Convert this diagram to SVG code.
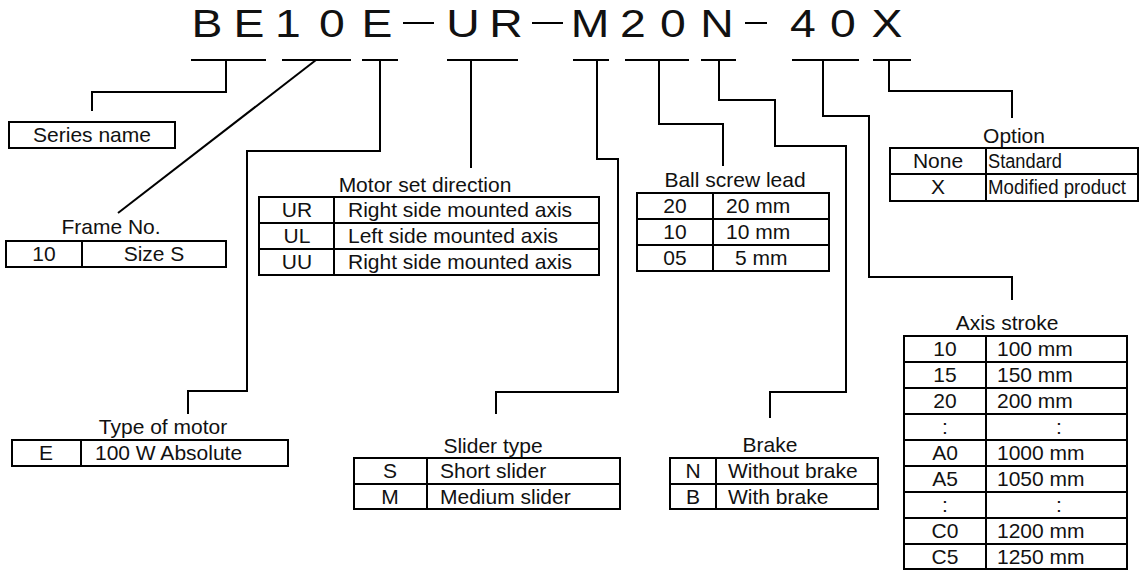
<svg xmlns="http://www.w3.org/2000/svg" width="1143" height="571" viewBox="0 0 1143 571">
<style>
text{font-family:"Liberation Sans",Arial,sans-serif;font-size:21px;fill:#111}
.t{font-size:38px;text-anchor:middle}
.c{text-anchor:middle}
.s{font-size:20px}
.ln{fill:none;stroke:#000;stroke-width:2}
rect{fill:none;stroke:#000;stroke-width:2}
</style>
<rect x="0" y="0" width="1143" height="571" fill="#fff" stroke="none" style="fill:#fff;stroke:none"/>
<g id="title">
<text class="t" transform="translate(207,37) scale(1.22,1)">B</text>
<text class="t" transform="translate(249,37) scale(1.22,1)">E</text>
<text class="t" transform="translate(288,37) scale(1.22,1)">1</text>
<text class="t" transform="translate(332,37) scale(1.22,1)">0</text>
<text class="t" transform="translate(377,37) scale(1.22,1)">E</text>
<line class="ln" x1="403" y1="23" x2="434" y2="23"/>
<text class="t" transform="translate(463,37) scale(1.22,1)">U</text>
<text class="t" transform="translate(506,37) scale(1.22,1)">R</text>
<line class="ln" x1="532" y1="23" x2="563" y2="23"/>
<text class="t" transform="translate(590,37) scale(1.22,1)">M</text>
<text class="t" transform="translate(633,37) scale(1.22,1)">2</text>
<text class="t" transform="translate(673,37) scale(1.22,1)">0</text>
<text class="t" transform="translate(717,37) scale(1.22,1)">N</text>
<line class="ln" x1="745" y1="23" x2="767" y2="23"/>
<text class="t" transform="translate(803,37) scale(1.22,1)">4</text>
<text class="t" transform="translate(843,37) scale(1.22,1)">0</text>
<text class="t" transform="translate(887,37) scale(1.22,1)">X</text>
</g>
<g id="underlines">
<line class="ln" x1="191" y1="60" x2="266" y2="60"/>
<line class="ln" x1="282" y1="60" x2="351" y2="60"/>
<line class="ln" x1="362" y1="60" x2="398" y2="60"/>
<line class="ln" x1="447" y1="60" x2="518" y2="60"/>
<line class="ln" x1="573" y1="60" x2="609" y2="60"/>
<line class="ln" x1="625" y1="60" x2="689" y2="60"/>
<line class="ln" x1="701" y1="60" x2="736" y2="60"/>
<line class="ln" x1="792" y1="60" x2="859" y2="60"/>
<line class="ln" x1="873" y1="60" x2="911" y2="60"/>
</g>
<g id="connectors">
<polyline class="ln" points="226,60 226,92 92,92 92,111"/>
<polyline class="ln" points="316,60 118,213"/>
<polyline class="ln" points="380,60 380,151 247,151 247,391 188,391 188,414"/>
<polyline class="ln" points="471,60 471,168"/>
<polyline class="ln" points="597,60 597,159 618,159 618,392 496,392 496,414"/>
<polyline class="ln" points="659,60 659,124 723,124 723,166"/>
<polyline class="ln" points="719,60 719,100 775,100 775,146 846,146 846,392 770,392 770,418"/>
<polyline class="ln" points="823,60 823,116 869,116 869,277 1012,277 1012,300"/>
<polyline class="ln" points="889,60 889,91 1012,91 1012,118"/>
</g>
<g id="series-name">
<rect x="9" y="122" width="166" height="26"/>
<text class="c" x="92" y="142">Series name</text>
</g>
<g id="frame-no">
<text class="c" x="111" y="234">Frame No.</text>
<rect x="6" y="241" width="220" height="26"/>
<line class="ln" x1="82" y1="241" x2="82" y2="267"/>
<text class="c" x="44" y="261">10</text>
<text class="c" x="154" y="261">Size S</text>
</g>
<g id="motor-type">
<text class="c" x="163" y="434">Type of motor</text>
<rect x="12" y="440" width="276" height="26"/>
<line class="ln" x1="81" y1="440" x2="81" y2="466"/>
<text class="c" x="46" y="460">E</text>
<text x="95" y="460">100 W Absolute</text>
</g>
<g id="motor-direction">
<text class="c" x="425" y="192">Motor set direction</text>
<rect x="259" y="197" width="340" height="78"/>
<line class="ln" x1="259" y1="223" x2="599" y2="223"/>
<line class="ln" x1="259" y1="249" x2="599" y2="249"/>
<line class="ln" x1="334" y1="197" x2="334" y2="275"/>
<text class="c" x="297" y="217">UR</text>
<text class="c" x="297" y="243">UL</text>
<text class="c" x="297" y="269">UU</text>
<text x="348" y="217">Right side mounted axis</text>
<text x="348" y="243">Left side mounted axis</text>
<text x="348" y="269">Right side mounted axis</text>
</g>
<g id="ball-screw-lead">
<text class="c" x="735" y="187">Ball screw lead</text>
<rect x="637" y="193" width="192" height="78"/>
<line class="ln" x1="637" y1="219" x2="829" y2="219"/>
<line class="ln" x1="637" y1="245" x2="829" y2="245"/>
<line class="ln" x1="713" y1="193" x2="713" y2="271"/>
<text class="c" x="675" y="213">20</text>
<text class="c" x="675" y="239">10</text>
<text class="c" x="675" y="265">05</text>
<text x="726" y="213">20 mm</text>
<text x="726" y="239">10 mm</text>
<text x="735" y="265">5 mm</text>
</g>
<g id="option">
<text class="c" x="1014" y="143">Option</text>
<rect x="890" y="148" width="248" height="53"/>
<line class="ln" x1="890" y1="174" x2="1138" y2="174"/>
<line class="ln" x1="986" y1="148" x2="986" y2="201"/>
<text class="c" x="938" y="168">None</text>
<text class="c" x="938" y="194">X</text>
<text class="s" x="988" y="168" textLength="74" lengthAdjust="spacingAndGlyphs">Standard</text>
<text class="s" x="988" y="194" textLength="138" lengthAdjust="spacingAndGlyphs">Modified product</text>
</g>
<g id="slider-type">
<text class="c" x="493" y="453">Slider type</text>
<rect x="354" y="458" width="266" height="51"/>
<line class="ln" x1="354" y1="484" x2="620" y2="484"/>
<line class="ln" x1="427" y1="458" x2="427" y2="509"/>
<text class="c" x="390" y="478">S</text>
<text class="c" x="390" y="504">M</text>
<text x="440" y="478">Short slider</text>
<text x="440" y="504">Medium slider</text>
</g>
<g id="brake">
<text class="c" x="770" y="452">Brake</text>
<rect x="670" y="458" width="208" height="51"/>
<line class="ln" x1="670" y1="484" x2="878" y2="484"/>
<line class="ln" x1="716" y1="458" x2="716" y2="509"/>
<text class="c" x="693" y="478">N</text>
<text class="c" x="693" y="504">B</text>
<text x="728" y="478">Without brake</text>
<text x="728" y="504">With brake</text>
</g>
<g id="axis-stroke">
<text class="c" x="1007" y="330">Axis stroke</text>
<rect x="904" y="336" width="223" height="233"/>
<line class="ln" x1="904" y1="362" x2="1127" y2="362"/>
<line class="ln" x1="904" y1="388" x2="1127" y2="388"/>
<line class="ln" x1="904" y1="414" x2="1127" y2="414"/>
<line class="ln" x1="904" y1="440" x2="1127" y2="440"/>
<line class="ln" x1="904" y1="466" x2="1127" y2="466"/>
<line class="ln" x1="904" y1="492" x2="1127" y2="492"/>
<line class="ln" x1="904" y1="518" x2="1127" y2="518"/>
<line class="ln" x1="904" y1="544" x2="1127" y2="544"/>
<line class="ln" x1="986" y1="336" x2="986" y2="569"/>
<text class="c" x="945" y="356">10</text>
<text class="c" x="945" y="382">15</text>
<text class="c" x="945" y="408">20</text>
<text class="c" x="945" y="434">:</text>
<text class="c" x="945" y="460">A0</text>
<text class="c" x="945" y="486">A5</text>
<text class="c" x="945" y="512">:</text>
<text class="c" x="945" y="538">C0</text>
<text class="c" x="945" y="564">C5</text>
<text x="997" y="356">100 mm</text>
<text x="997" y="382">150 mm</text>
<text x="997" y="408">200 mm</text>
<text class="c" x="1059" y="434">:</text>
<text x="997" y="460">1000 mm</text>
<text x="997" y="486">1050 mm</text>
<text class="c" x="1059" y="512">:</text>
<text x="997" y="538">1200 mm</text>
<text x="997" y="564">1250 mm</text>
</g>
</svg>
